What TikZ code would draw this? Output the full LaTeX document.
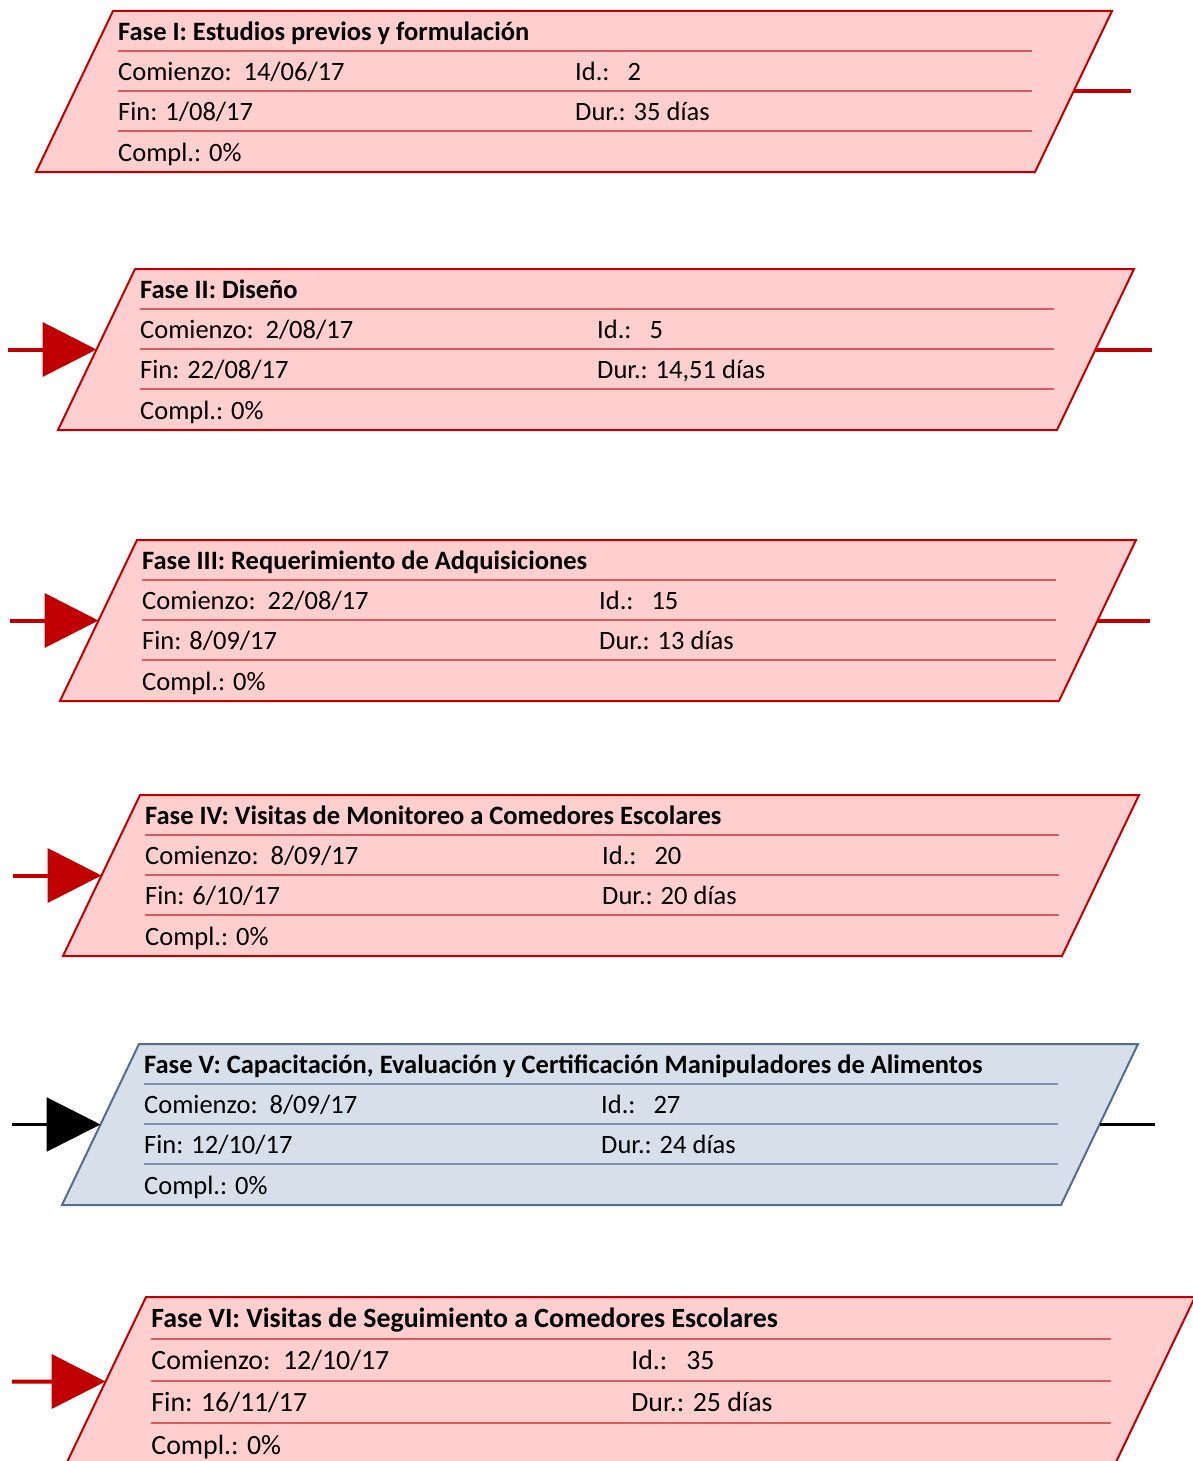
\documentclass[tikz,border=0pt]{standalone}
\usepackage{fontspec}
\setmainfont{Carlito}
\usetikzlibrary{arrows.meta}
\definecolor{rojoborde}{RGB}{192,0,0}
\definecolor{rojofondo}{RGB}{255,206,206}
\definecolor{rojoraya}{RGB}{216,92,94}
\definecolor{azulborde}{RGB}{84,108,142}
\definecolor{azulfondo}{RGB}{214,223,234}
\definecolor{azulraya}{RGB}{122,145,176}
\tikzstyle{roja}=[/utils/exec={\colorlet{cborde}{rojoborde}\colorlet{cfondo}{rojofondo}\colorlet{craya}{rojoraya}}]
\tikzstyle{azul}=[/utils/exec={\colorlet{cborde}{azulborde}\colorlet{cfondo}{azulfondo}\colorlet{craya}{azulraya}}]
\tikzstyle{caja}=[draw=cborde, fill=cfondo, line width=2pt]
\tikzstyle{raya}=[draw=craya, line width=2pt]
\tikzstyle{titulo}=[anchor=base west, inner sep=0pt, font=\fontsize{26.5}{30}\selectfont\bfseries]
\tikzstyle{dato}=[anchor=base west, inner sep=0pt, font=\fontsize{26.5}{30}\selectfont]
\tikzstyle{entrada}=[coordinate]
\tikzstyle{salida}=[coordinate]
\tikzstyle{flecha roja}=[draw=rojoborde, line width=4pt, -{Triangle[length=54pt,width=54pt]}]
\tikzstyle{flecha negra}=[draw=black, line width=2.5pt, -{Triangle[length=54pt,width=54pt]}]
\tikzstyle{cola roja}=[draw=rojoborde, line width=4pt]
\tikzstyle{cola negra}=[draw=black, line width=2.5pt]
% una fase: nombre, x, y (esquina superior izquierda), estilo, titulo, comienzo, id, fin, duracion
\newcommand{\fase}[9]{%
  \begin{scope}[shift={(#2,#3)}, #4]
    \draw[caja] (0,0) -- (999,0) -- (922,161) -- (-77,161) -- cycle;
    \coordinate (#1-w) at (-38.5,80.5);
    \coordinate (#1-e) at (960.5,80.5);
    \draw[raya] (5,40) -- (919,40);
    \draw[raya] (5,80) -- (919,80);
    \draw[raya] (5,120) -- (919,120);
    \node[titulo] (#1-t) at (5,29.5) {#5};
    \node[dato] (#1-c) at (5,69.5) {Comienzo:~~#6};
    \node[dato] (#1-i) at (462,69.5) {Id.:~~~#7};
    \node[dato] (#1-f) at (5,109.5) {Fin: #8};
    \node[dato] (#1-d) at (462,109.5) {Dur.: #9};
    \node[dato] (#1-p) at (5,150) {Compl.: 0\%};
  \end{scope}}

\begin{document}
\begin{tikzpicture}[x=1pt, y=-1pt]
	\useasboundingbox (0,0) rectangle (1193,1461);
	\clip (0,0) rectangle (1193,1461);
	\fase{f1}{113}{11}{roja}{Fase I: Estudios previos y formulación}{14/06/17}{2}{1/08/17}{35 días}
	\fase{f2}{135}{269}{roja}{Fase II: Diseño}{2/08/17}{5}{22/08/17}{14,51 días}
	\fase{f3}{137}{540}{roja}{Fase III: Requerimiento de Adquisiciones}{22/08/17}{15}{8/09/17}{13 días}
	\fase{f4}{140}{795}{roja}{Fase IV: Visitas de Monitoreo a Comedores Escolares}{8/09/17}{20}{6/10/17}{20 días}
	\fase{f5}{139}{1044}{azul}{Fase V: Capacitación, Evaluación y Certificación Manipuladores de Alimentos}{8/09/17}{27}{12/10/17}{24 días}
	\fase{f6}{146}{1297}{roja, scale=1.05, transform shape}{Fase VI: Visitas de Seguimiento a Comedores Escolares}{12/10/17}{35}{16/11/17}{25 días}

	\node[entrada] (e2) at (8,349.5) {};
	\node[entrada] (e3) at (10,620.5) {};
	\node[entrada] (e4) at (13,875.5) {};
	\node[entrada] (e5) at (12,1124.5) {};
	\node[entrada] (e6) at (12,1381.5) {};
	\node[salida] (s1) at (1131,91.5) {};
	\node[salida] (s2) at (1152,349.5) {};
	\node[salida] (s3) at (1150,620.5) {};
	\node[salida] (s5) at (1155,1124.5) {};

	\draw[cola roja] (f1-e) -- (s1);
	\draw[flecha roja] (e2) -- (f2-w);
	\draw[cola roja] (f2-e) -- (s2);
	\draw[flecha roja] (e3) -- (f3-w);
	\draw[cola roja] (f3-e) -- (s3);
	\draw[flecha roja] (e4) -- (f4-w);
	\draw[flecha negra] (e5) -- (f5-w);
	\draw[cola negra] (f5-e) -- (s5);
	\draw[flecha roja] (e6) -- (f6-w);
\end{tikzpicture}
\end{document}
